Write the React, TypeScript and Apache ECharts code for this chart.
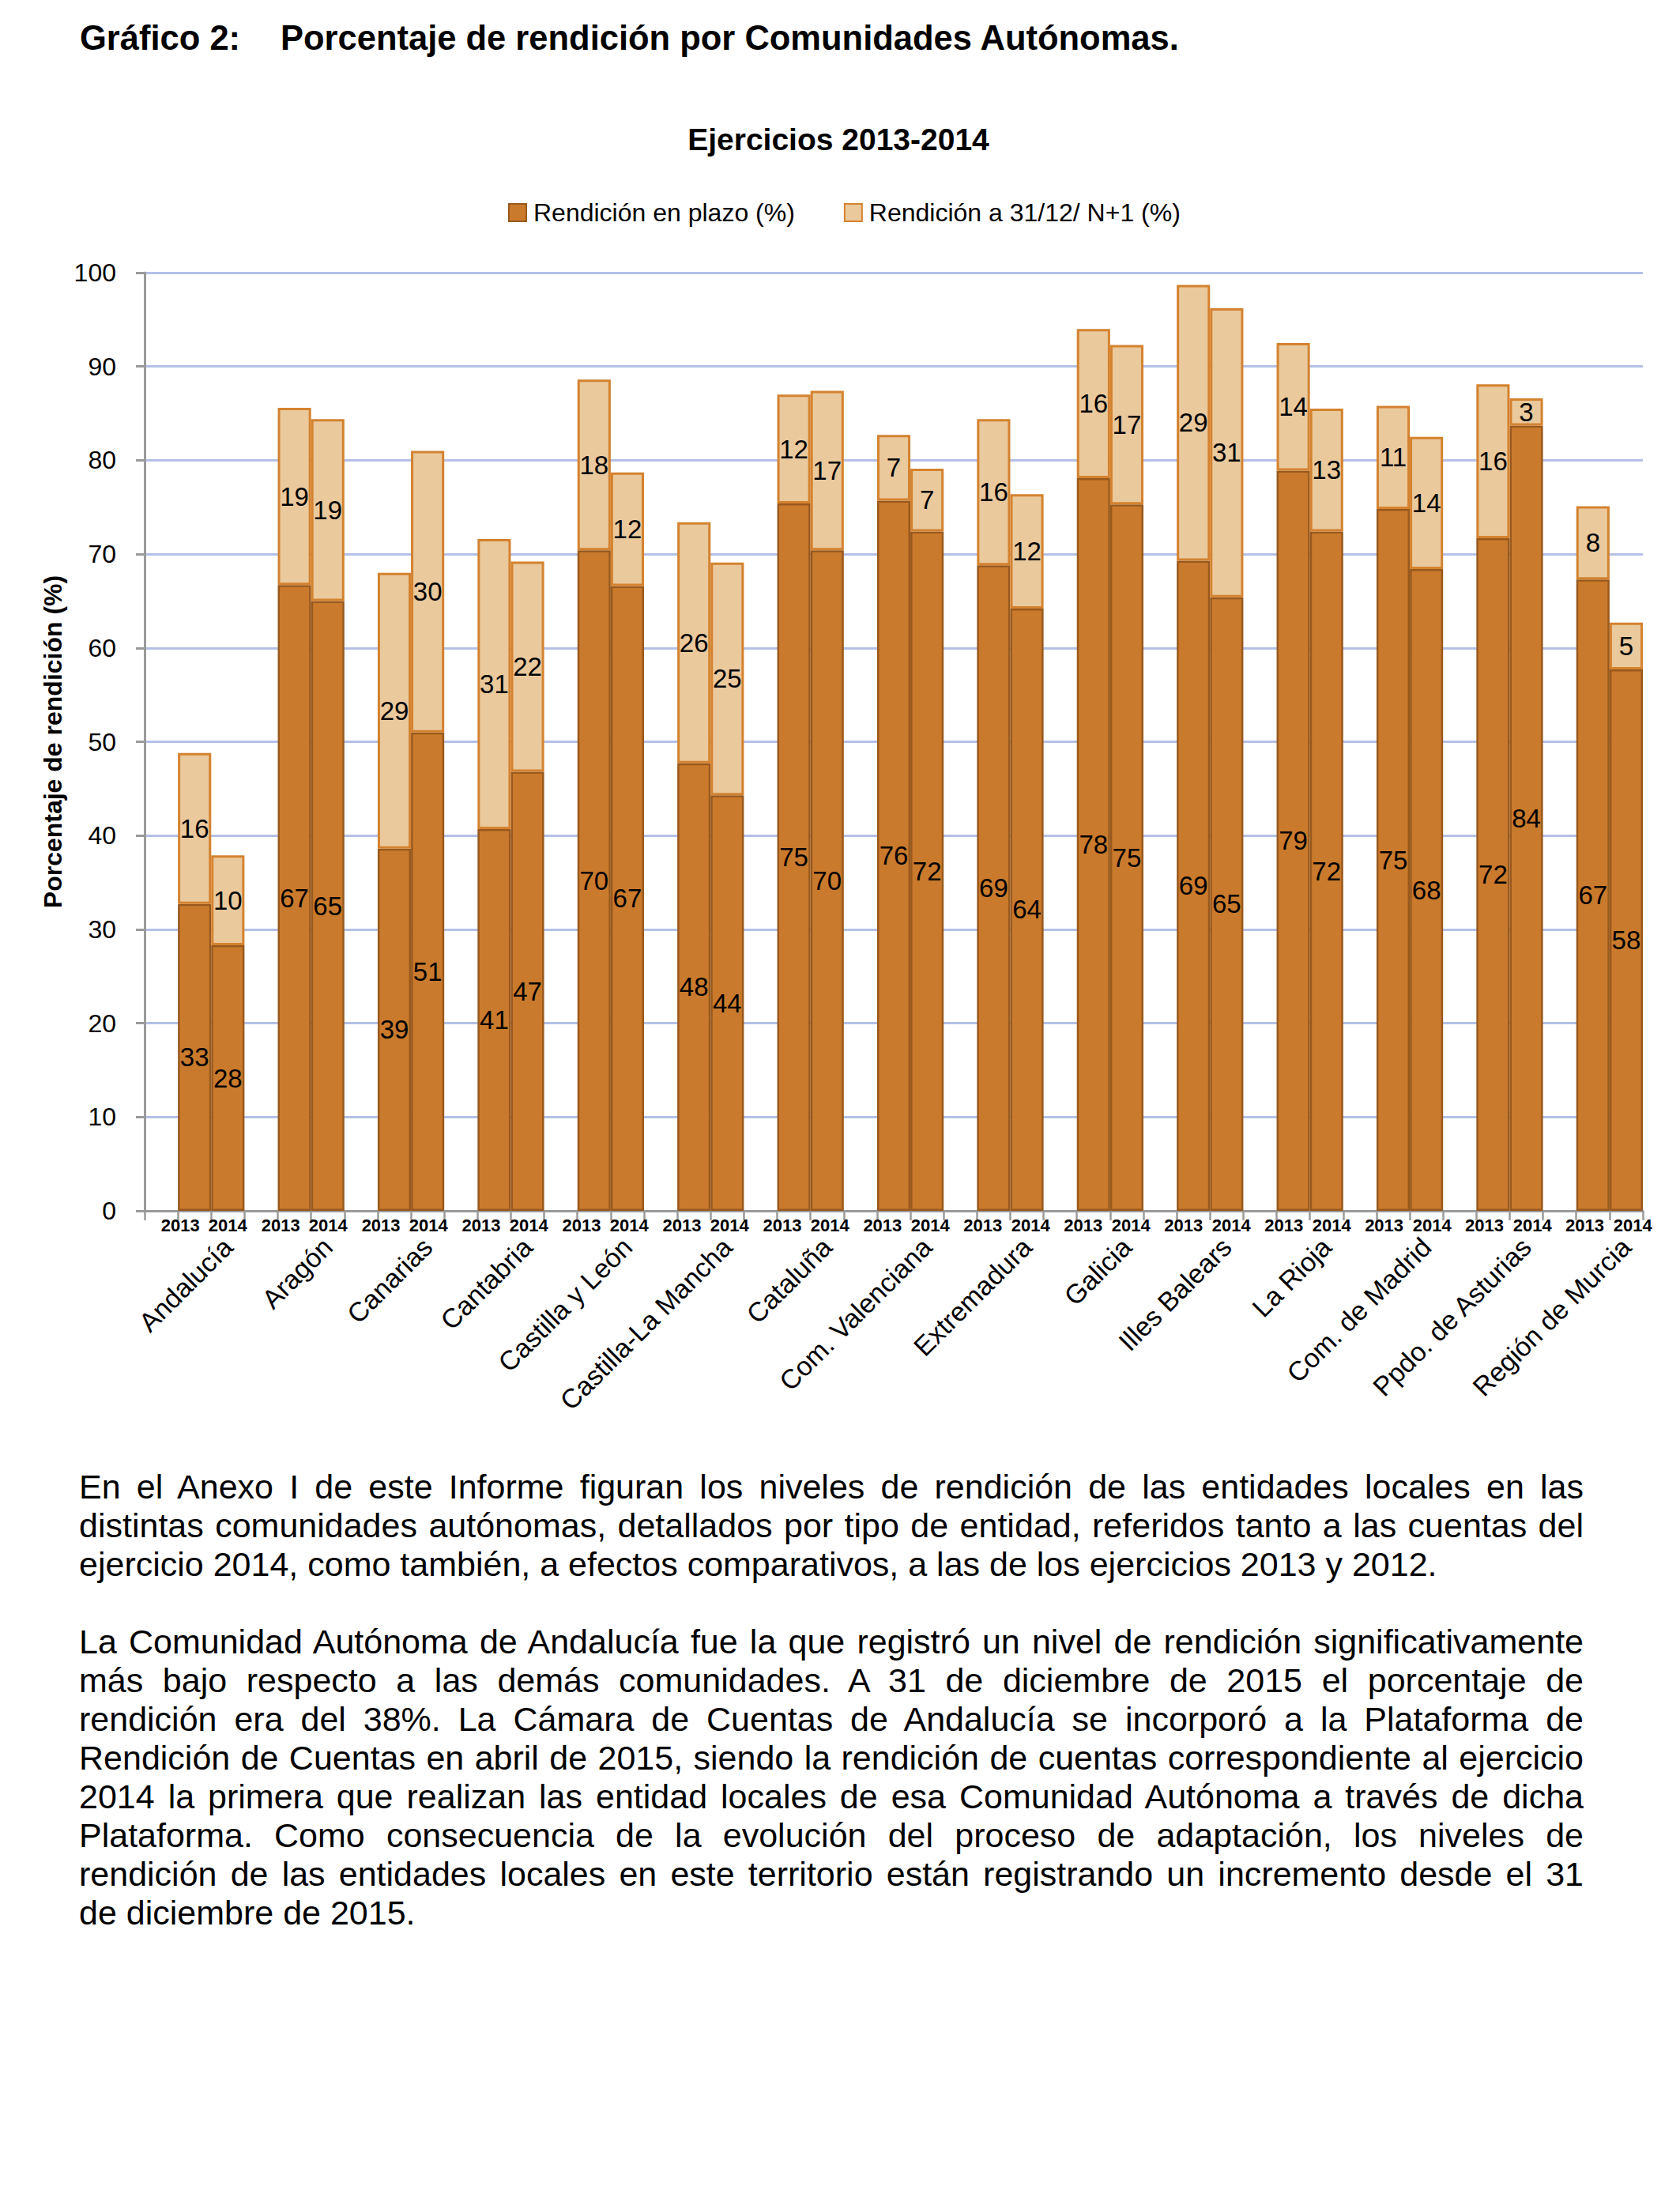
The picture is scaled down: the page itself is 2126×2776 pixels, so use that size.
import React, { useEffect, useRef } from 'react';
import * as echarts from 'echarts';

// ---------- data ----------
const regions = [
  'Andalucía', 'Aragón', 'Canarias', 'Cantabria', 'Castilla y León', 'Castilla-La Mancha',
  'Cataluña', 'Com. Valenciana', 'Extremadura', 'Galicia', 'Illes Balears', 'La Rioja',
  'Com. de Madrid', 'Ppdo. de Asturias', 'Región de Murcia',
];
const years = ['2013', '2014'];
const seriesNames = ['Rendición en plazo (%)', 'Rendición a 31/12/ N+1 (%)'];
const plazo2013 = [32.7, 66.7, 38.6, 40.7, 70.4, 47.7, 75.4, 75.7, 68.8, 78.1, 69.3, 78.9, 74.8, 71.7, 67.3];
const plazo2014 = [28.3, 65.0, 51.0, 46.8, 66.6, 44.3, 70.4, 72.4, 64.2, 75.3, 65.4, 72.4, 68.4, 83.7, 57.7];
const extra2013 = [16.1, 18.9, 29.4, 30.9, 18.2, 25.7, 11.6, 7.0, 15.6, 15.9, 29.4, 13.6, 11.0, 16.4, 7.8];
const extra2014 = [9.6, 19.4, 30.0, 22.4, 12.1, 24.8, 17.0, 6.7, 12.2, 17.0, 30.8, 13.1, 14.1, 2.9, 5.0];
const yMin = 0;
const yMax = 100;
const yInterval = 10;

const headingLabel = 'Gráfico 2:';
const headingText = 'Porcentaje de rendición por Comunidades Autónomas.';
const chartTitle = 'Ejercicios 2013-2014';
const yAxisTitle = 'Porcentaje de rendición (%)';

const paragraph1 = [
  'En el Anexo I de este Informe figuran los niveles de rendición de las entidades locales en las',
  'distintas comunidades autónomas, detallados por tipo de entidad, referidos tanto a las cuentas del',
  'ejercicio 2014, como también, a efectos comparativos, a las de los ejercicios 2013 y 2012.',
];
const paragraph2 = [
  'La Comunidad Autónoma de Andalucía fue la que registró un nivel de rendición significativamente',
  'más bajo respecto a las demás comunidades. A 31 de diciembre de 2015 el porcentaje de',
  'rendición era del 38%. La Cámara de Cuentas de Andalucía se incorporó a la Plataforma de',
  'Rendición de Cuentas en abril de 2015, siendo la rendición de cuentas correspondiente al ejercicio',
  '2014 la primera que realizan las entidad locales de esa Comunidad Autónoma a través de dicha',
  'Plataforma. Como consecuencia de la evolución del proceso de adaptación, los niveles de',
  'rendición de las entidades locales en este territorio están registrando un incremento desde el 31',
  'de diciembre de 2015.',
];

// ---------- helpers ----------
function hasFont(name: string): boolean {
  try {
    const ctx = document.createElement('canvas').getContext('2d');
    if (!ctx) return false;
    const s = 'abcdefghijklmnopqrstuvwxyz ABCDEFGHIJ 0123456789';
    ctx.font = '40px monospace';
    const a = ctx.measureText(s).width;
    ctx.font = `40px "${name}", monospace`;
    const b = ctx.measureText(s).width;
    return Math.abs(a - b) > 0.5;
  } catch (e) {
    return false;
  }
}

function buildOption(narrowOk: boolean) {
  const RF = '"Liberation Sans", Arial, sans-serif';
  const NF = narrowOk ? '"Liberation Sans Narrow", "Liberation Sans", Arial, sans-serif' : RF;
  // sizes: [narrow, regular]
  const fs = (n: number, r: number) => (narrowOk ? n : r);

  // 45 slots: blank, 2013, 2014 for each region
  const slotLabels: string[] = [];
  const regionSlots: string[] = [];
  const darkData: (number | null)[] = [];
  const lightData: (number | null)[] = [];
  regions.forEach((r, k) => {
    slotLabels.push('', years[0], years[1]);
    regionSlots.push('', '', r);
    darkData.push(null, plazo2013[k], plazo2014[k]);
    lightData.push(null, extra2013[k], extra2014[k]);
  });

  const rich: Record<string, any> = {};
  slotLabels.forEach((lab, i) => {
    if (!lab) return;
    const k = Math.floor(i / 3);
    const off = i % 3 === 1 ? -18 + 0.55 * k : 0.6 * k;
    const pad = off < 0 ? [0, -2 * off, 0, 0] : [0, 0, 0, 2 * off];
    rich['s' + i] = {
      fontFamily: NF,
      fontWeight: 'bold',
      fontSize: fs(25, 22),
      color: '#000',
      padding: pad,
    };
  });

  const labelStyle = {
    show: true,
    position: 'inside',
    color: '#000',
    fontFamily: NF,
    fontSize: fs(36, 33),
    formatter: (p: any) => (p.value == null ? '' : String(Math.round(p.value))),
  };

  return {
    animation: false,
    backgroundColor: 'transparent',
    graphic: [
      {
        type: 'text',
        x: 101,
        y: 48,
        style: {
          text: headingLabel,
          fontFamily: RF,
          fontWeight: 'bold',
          fontSize: 43.5,
          fill: '#000',
          verticalAlign: 'middle',
          textVerticalAlign: 'middle',
        },
      },
      {
        type: 'text',
        x: 355,
        y: 48,
        style: {
          text: headingText,
          fontFamily: RF,
          fontWeight: 'bold',
          fontSize: 43.5,
          fill: '#000',
          verticalAlign: 'middle',
          textVerticalAlign: 'middle',
        },
      },
      {
        type: 'text',
        x: 1061,
        y: 176,
        style: {
          text: chartTitle,
          fontFamily: NF,
          fontWeight: 'bold',
          fontSize: fs(46, 39),
          fill: '#000',
          align: 'center',
          textAlign: 'center',
          verticalAlign: 'middle',
          textVerticalAlign: 'middle',
        },
      },
    ],
    legend: {
      left: 638,
      top: 248,
      itemWidth: 22,
      itemHeight: 22,
      itemGap: 62,
      icon: 'rect',
      textStyle: { fontFamily: NF, fontSize: fs(38, 32), color: '#000', padding: [0, 0, 0, 4] },
      data: seriesNames,
    },
    grid: { left: 183, top: 345, width: 1896, height: 1187, containLabel: false },
    xAxis: [
      {
        type: 'category',
        data: slotLabels,
        position: 'bottom',
        boundaryGap: true,
        axisLine: { show: true, lineStyle: { color: '#9a9a9a', width: 3 } },
        axisTick: { show: true, interval: 0, length: 12, lineStyle: { color: '#9a9a9a', width: 2.5 } },
        splitLine: { show: false },
        axisLabel: {
          interval: 0,
          margin: 7,
          color: '#000',
          fontFamily: NF,
          fontWeight: 'bold',
          fontSize: fs(25, 22),
          formatter: (v: string, i: number) => (v ? `{s${i}|${v}}` : ''),
          rich,
        },
      },
      {
        type: 'category',
        data: regionSlots,
        position: 'bottom',
        boundaryGap: true,
        axisLine: { show: false },
        axisTick: { show: false },
        splitLine: { show: false },
        axisLabel: {
          interval: 0,
          rotate: 45,
          margin: 40,
          color: '#000',
          fontFamily: RF,
          fontSize: 34,
        },
      },
    ],
    yAxis: {
      type: 'value',
      min: yMin,
      max: yMax,
      interval: yInterval,
      name: yAxisTitle,
      nameLocation: 'middle',
      nameGap: 100,
      nameTextStyle: { fontFamily: NF, fontWeight: 'bold', fontSize: fs(38, 32), color: '#000' },
      axisLine: { show: true, lineStyle: { color: '#9a9a9a', width: 3 } },
      axisTick: { show: true, length: 11, lineStyle: { color: '#9a9a9a', width: 3 } },
      splitLine: { show: true, lineStyle: { color: '#b4c0e6', width: 3 } },
      axisLabel: { margin: 36, color: '#000', fontFamily: NF, fontSize: fs(36, 32) },
    },
    series: [
      {
        name: seriesNames[0],
        type: 'bar',
        stack: 'total',
        xAxisIndex: 0,
        barCategoryGap: '0%',
        data: darkData,
        itemStyle: { color: '#ca7a2c', borderColor: '#99591d', borderWidth: 2.5 },
        label: labelStyle,
      },
      {
        name: seriesNames[1],
        type: 'bar',
        stack: 'total',
        xAxisIndex: 0,
        barCategoryGap: '0%',
        data: lightData,
        itemStyle: { color: '#eac99d', borderColor: '#d4822f', borderWidth: 3 },
        label: labelStyle,
      },
    ],
  };
}

const paraFont: React.CSSProperties = {
  fontFamily: '"Liberation Sans", Arial, sans-serif',
  fontSize: 43,
  lineHeight: '49px',
  color: '#000',
};

function Paragraph({ lines }: { lines: string[] }) {
  return (
    <div>
      {lines.map((l, i) => {
        const last = i === lines.length - 1;
        return (
          <div
            key={i}
            style={{
              height: 49,
              textAlign: last ? 'left' : 'justify',
              textAlignLast: last ? 'left' : 'justify',
            } as React.CSSProperties}
          >
            {l}
          </div>
        );
      })}
    </div>
  );
}

export default function App() {
  const ref = useRef<HTMLDivElement>(null);
  useEffect(() => {
    if (!ref.current) return;
    const narrowOk = hasFont('Liberation Sans Narrow');
    const chart = echarts.init(ref.current, null, { renderer: 'svg' });
    chart.setOption(buildOption(narrowOk) as any);
    return () => chart.dispose();
  }, []);
  return (
    <div style={{ position: 'absolute', left: 0, top: 0, width: 2126, height: 2776, background: '#fff' }}>
      <div ref={ref} style={{ position: 'absolute', left: 0, top: 0, width: 2126, height: 1850 }} />
      <div style={{ position: 'absolute', left: 100, top: 1857, width: 1904, ...paraFont }}>
        <Paragraph lines={paragraph1} />
        <div style={{ height: 49 }} />
        <Paragraph lines={paragraph2} />
      </div>
    </div>
  );
}
